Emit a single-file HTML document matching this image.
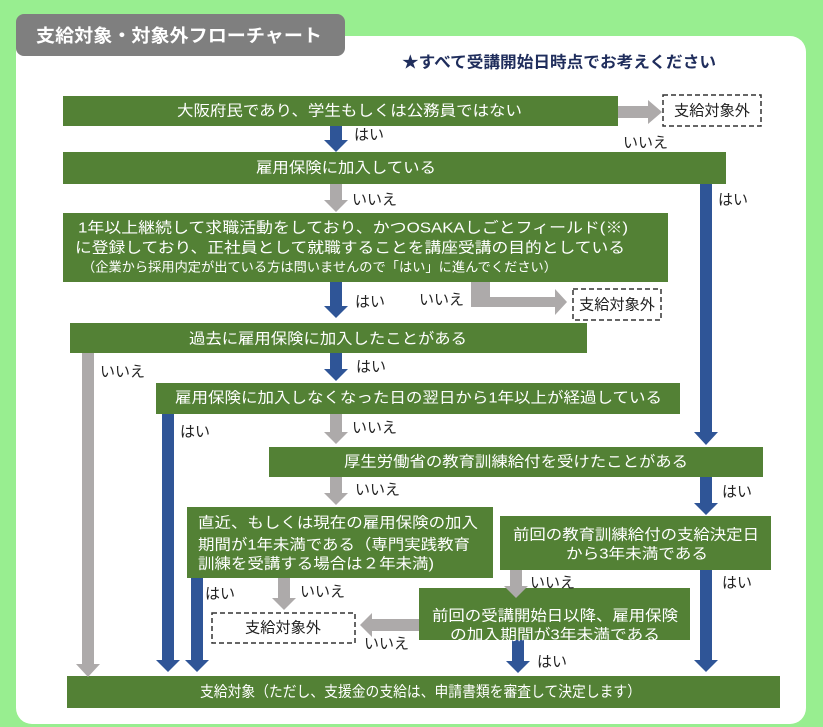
<!DOCTYPE html>
<html><head><meta charset="utf-8"><style>
html,body{margin:0;padding:0;background:#98ee90;}
svg{display:block;}
text{font-family:"Liberation Sans","Noto Sans CJK JP",sans-serif;dominant-baseline:central;}
.w{fill:#fff;font-size:15px;}
.k{fill:#222;font-size:15px;}
</style></head><body>
<svg width="823" height="727" viewBox="0 0 823 727" xmlns="http://www.w3.org/2000/svg">
<rect x="0" y="0" width="823" height="727" fill="#98ee90"/>
<rect x="16" y="36" width="790" height="688" rx="16" fill="#fff"/>
<rect x="16" y="14" width="329" height="42" rx="8" fill="#7f7f7f"/>
<text x="36" y="36" fill="#fff" style="font-size:18px;font-weight:bold" textLength="286" lengthAdjust="spacingAndGlyphs">支給対象・対象外フローチャート</text>
<text x="402" y="63" fill="#1f2d5c" style="font-size:16px;font-weight:bold" textLength="314" lengthAdjust="spacingAndGlyphs">★すべて受講開始日時点でお考えください</text>

<g fill="#538135">
<rect x="63" y="96" width="555" height="30"/>
<rect x="63" y="152" width="663" height="32"/>
<rect x="63" y="213" width="605" height="69"/>
<rect x="70" y="323" width="517" height="30"/>
<rect x="156" y="383" width="524" height="31"/>
<rect x="269" y="447" width="494" height="30"/>
<rect x="187" y="507" width="306" height="71"/>
<rect x="500" y="516" width="271" height="54"/>
<rect x="419" y="588" width="271" height="52"/>
<rect x="67" y="676" width="713" height="32"/>
</g>

<g fill="#fff" stroke="#333" stroke-width="1.5" stroke-dasharray="5,3">
<rect x="663" y="95" width="98" height="31"/>
<rect x="573" y="289" width="88" height="31"/>
<rect x="212" y="613" width="143" height="30"/>
</g>
<text class="k" x="674" y="111" textLength="76" lengthAdjust="spacingAndGlyphs">支給対象外</text>
<text class="k" x="579" y="305" textLength="76" lengthAdjust="spacingAndGlyphs">支給対象外</text>
<text class="k" x="245" y="628" textLength="76" lengthAdjust="spacingAndGlyphs">支給対象外</text>

<g fill="#adaaaa">
<polygon points="618,106 648,106 648,100 662,112 648,124 648,118 618,118"/>
<polygon points="330,184 342,184 342,200 348,200 336,212 324,200 330,200"/>
<polygon points="471,282 490,282 490,297 555,297 555,289 567,302 555,315 555,307 471,307"/>
<polygon points="82,353 94,353 94,664 100,664 88,677 76,664 82,664"/>
<polygon points="330,414 342,414 342,432 348,432 336,444 324,432 330,432"/>
<polygon points="330,477 342,477 342,493 348,493 336,505 324,493 330,493"/>
<polygon points="278,578 290,578 290,598 296,598 284,610 272,598 278,598"/>
<polygon points="510,570 522,570 522,586 528,586 516,598 504,586 510,586"/>
<polygon points="419,619 372,619 372,613 360,625 372,637 372,631 419,631"/>
</g>
<g fill="#2f5597">
<polygon points="330,126 342,126 342,140 348,140 336,152 324,140 330,140"/>
<polygon points="700,184 712,184 712,432 718,432 706,445 694,432 700,432"/>
<polygon points="330,282 342,282 342,306 348,306 336,318 324,306 330,306"/>
<polygon points="330,353 342,353 342,369 348,369 336,381 324,369 330,369"/>
<polygon points="162,414 174,414 174,660 180,660 168,672 156,660 162,660"/>
<polygon points="700,477 712,477 712,503 718,503 706,515 694,503 700,503"/>
<polygon points="191,578 203,578 203,660 209,660 197,672 185,660 191,660"/>
<polygon points="700,570 712,570 712,660 718,660 706,672 694,660 700,660"/>
<polygon points="512,640 524,640 524,661 530,661 518,673 506,661 512,661"/>
</g>

<text class="w" x="177" y="111" textLength="345" lengthAdjust="spacingAndGlyphs">大阪府民であり、学生もしくは公務員ではない</text>
<text class="w" x="256" y="168" textLength="180" lengthAdjust="spacingAndGlyphs">雇用保険に加入している</text>
<text class="w" x="78" y="228" textLength="550" lengthAdjust="spacingAndGlyphs">1年以上継続して求職活動をしており、かつOSAKAしごとフィールド(※)</text>
<text class="w" x="75" y="248" textLength="550" lengthAdjust="spacingAndGlyphs">に登録しており、正社員として就職することを講座受講の目的としている</text>
<text class="w" x="82" y="267" style="font-size:13px" textLength="475" lengthAdjust="spacingAndGlyphs">（企業から採用内定が出ている方は問いませんので「はい」に進んでください）</text>
<text class="w" x="189" y="339" textLength="278" lengthAdjust="spacingAndGlyphs">過去に雇用保険に加入したことがある</text>
<text class="w" x="175" y="398" textLength="487" lengthAdjust="spacingAndGlyphs">雇用保険に加入しなくなった日の翌日から1年以上が経過している</text>
<text class="w" x="344" y="462" textLength="344" lengthAdjust="spacingAndGlyphs">厚生労働省の教育訓練給付を受けたことがある</text>
<text class="w" x="198" y="523" textLength="280" lengthAdjust="spacingAndGlyphs">直近、もしくは現在の雇用保険の加入</text>
<text class="w" x="198" y="545" textLength="272" lengthAdjust="spacingAndGlyphs">期間が1年未満である（専門実践教育</text>
<text class="w" x="198" y="564" textLength="236" lengthAdjust="spacingAndGlyphs">訓練を受講する場合は２年未満)</text>
<text class="w" x="513" y="535" textLength="246" lengthAdjust="spacingAndGlyphs">前回の教育訓練給付の支給決定日</text>
<text class="w" x="566" y="554" textLength="142" lengthAdjust="spacingAndGlyphs">から3年未満である</text>
<text class="w" x="432" y="616" textLength="246" lengthAdjust="spacingAndGlyphs">前回の受講開始日以降、雇用保険</text>
<text class="w" x="450" y="635" textLength="210" lengthAdjust="spacingAndGlyphs">の加入期間が3年未満である</text>
<text class="w" x="200" y="692" textLength="441" lengthAdjust="spacingAndGlyphs">支給対象（ただし、支援金の支給は、申請書類を審査して決定します）</text>

<g>
<text class="k" x="354" y="135">はい</text>
<text class="k" x="623" y="143">いいえ</text>
<text class="k" x="352" y="200">いいえ</text>
<text class="k" x="718" y="200">はい</text>
<text class="k" x="355" y="302">はい</text>
<text class="k" x="419" y="300">いいえ</text>
<text class="k" x="100" y="372">いいえ</text>
<text class="k" x="356" y="367">はい</text>
<text class="k" x="180" y="432">はい</text>
<text class="k" x="352" y="428">いいえ</text>
<text class="k" x="355" y="490">いいえ</text>
<text class="k" x="722" y="492">はい</text>
<text class="k" x="205" y="594">はい</text>
<text class="k" x="300" y="592">いいえ</text>
<text class="k" x="530" y="583">いいえ</text>
<text class="k" x="722" y="583">はい</text>
<text class="k" x="364" y="644">いいえ</text>
<text class="k" x="537" y="662">はい</text>
</g>
</svg>
</body></html>
